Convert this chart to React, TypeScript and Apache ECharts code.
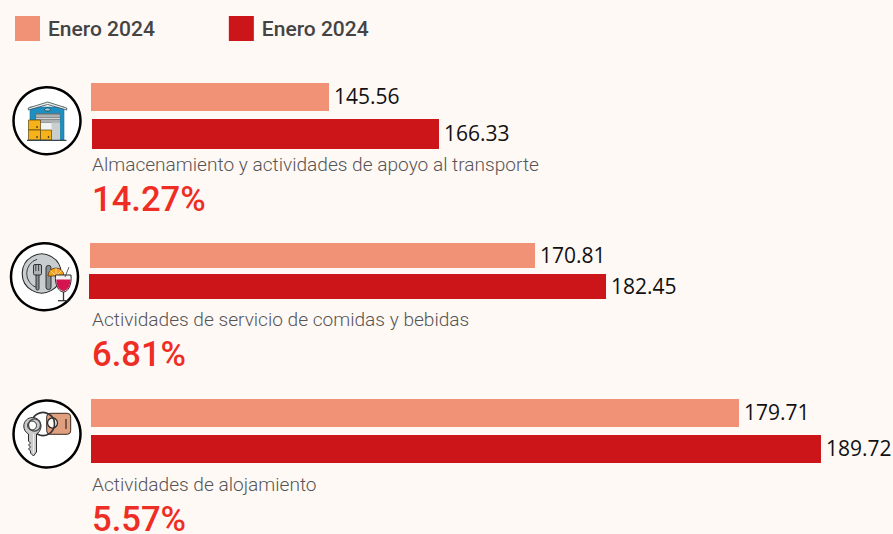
import React, { useEffect, useRef } from "react";
import * as echarts from "echarts";

const legendLabels = ["Enero 2024", "Enero 2024"];
const categories = [
  "Almacenamiento y actividades de apoyo al transporte",
  "Actividades de servicio de comidas y bebidas",
  "Actividades de alojamiento",
];
const lightValues = [145.56, 170.81, 179.71];
const darkValues = [166.33, 182.45, 189.72];
const changes = ["14.27%", "6.81%", "5.57%"];

// Each block of the infographic has its own truncated value axis
const axisMins = [100.21, 98.87, 100.59];
const pxPerUnit = [5.248, 6.186, 8.19];

const LIGHT = "#F19176";
const DARK = "#CB1519";
const BG = "#FFF9F6";
const INK = "#2B2B2B";

// [left, top, height] of each bar, in page pixels
const lightBoxes = [[91, 83, 28], [90, 243, 25], [91, 399, 28]];
const darkBoxes = [[92, 119, 30], [89, 274, 25], [91, 435, 28]];
const subtitleY = [164, 319, 484];
const changeY = [199, 354, 519];
const GRID_WIDTH = 730;

echarts.graphic.registerShape(
  "bowl",
  echarts.graphic.extendPath("M55.5 275 L71 275 C72 285 68 292 63.5 292 C59 292 54.5 285 55.5 275 Z", {})
);
echarts.graphic.registerShape(
  "bowlWine",
  echarts.graphic.extendPath("M56.3 279.5 L70.4 279.5 C70.8 286 67 291 63.5 291 C60 291 56 286 56.3 279.5 Z", {})
);
echarts.graphic.registerShape(
  "keyBody",
  echarts.graphic.extendPath(
    "M32.5 417.5 C37.5 417.5 41 421.5 41 426 C41 430 38.5 433 36.5 434 L36.5 452 L33.5 456 L30.5 453 L30.5 451 L28.5 449 L30.5 447 L28.5 445 L30.5 443 L28.5 441 L28.5 434 C25.5 432.5 23.8 429.5 23.8 426 C23.8 421.5 27.5 417.5 32.5 417.5 Z",
    {}
  )
);

const line = (x1: number, y1: number, x2: number, y2: number, stroke: string, lineWidth = 1) => ({
  type: "line",
  shape: { x1, y1, x2, y2 },
  style: { stroke, lineWidth },
});
const box = (x: number, y: number, width: number, height: number, fill: string, stroke = INK, lineWidth = 0.8, r = 0) => ({
  type: "rect",
  shape: { x, y, width, height, r },
  style: { fill, stroke, lineWidth },
});
const dot = (cx: number, cy: number, r: number, fill: string, stroke = INK, lineWidth = 1) => ({
  type: "circle",
  shape: { cx, cy, r },
  style: { fill, stroke, lineWidth },
});

const warehouseIcon = () => [
  dot(47, 120.7, 33.5, "#FFFFFF", "#000000", 2.5),
  box(30, 107, 34, 33, "#1D8FC0", "#1D6E94", 0.6),
  { type: "polygon", shape: { points: [[28.3, 108], [47.7, 102], [66.7, 108], [66.7, 110], [47.7, 104.5], [28.3, 110]] }, style: { fill: "#E8EEF0", stroke: "#3A4A50", lineWidth: 0.8 } },
  { type: "ellipse", shape: { cx: 47.5, cy: 109.5, rx: 3, ry: 1.6 }, style: { fill: "#8CCBE0", stroke: INK, lineWidth: 0.7 } },
  box(36, 113.5, 24, 9, "#8A8F92", "#555", 0.4),
  line(36, 116, 60, 116, "#E6E6E6", 0.8),
  line(36, 118.5, 60, 118.5, "#E6E6E6", 0.8),
  line(36, 121, 60, 121, "#E6E6E6", 0.8),
  box(36, 122.5, 24, 17.5, "#F2F4F3", "#777", 0.4),
  box(51.5, 122.5, 8.5, 17.5, "#C9CFCF", "#999", 0),
  box(28.5, 120, 12, 10, "#F5B21A", "#5A4510", 0.7),
  box(28.5, 130, 12, 10, "#F5B21A", "#5A4510", 0.7),
  box(40.5, 130, 11, 10, "#F5B21A", "#5A4510", 0.7),
  dot(37, 127, 0.7, INK, INK, 0.3),
  dot(37, 137, 0.7, INK, INK, 0.3),
  dot(48.5, 137, 0.7, INK, INK, 0.3),
  line(27, 140.3, 66.5, 140.3, "#37474F", 1.2),
];

const mealIcon = () => [
  dot(44.5, 276.7, 33.5, "#FFFFFF", "#000000", 2.5),
  dot(41.7, 273.5, 19.5, "#C8CED0", "#2A2A2A", 1.1),
  { type: "arc", shape: { cx: 41.7, cy: 273.5, r: 15, startAngle: 1.9, endAngle: 4.4 }, style: { stroke: "#2A2A2A", lineWidth: 0.9, fill: "none" } },
  box(36, 274, 3, 16, "#8A8F92", "#222", 0.9, 1.2),
  box(33.5, 264.5, 8, 10.5, "#AEB4B6", "#222", 0.9, 1.5),
  line(35.8, 264.5, 35.8, 271, "#222", 0.8),
  line(38.6, 264.5, 38.6, 271, "#222", 0.8),
  box(46, 265.5, 5, 24, "#8A8F92", "#222", 0.9, 2.2),
  { type: "sector", shape: { cx: 56, cy: 276, r0: 0, r: 8, startAngle: Math.PI, endAngle: 2 * Math.PI }, style: { fill: "#F4A11E", stroke: "#5A3A10", lineWidth: 0.8 } },
  line(56, 276, 56, 268, "#FBE6B5", 0.8),
  line(56, 276, 50.5, 270.5, "#FBE6B5", 0.8),
  line(56, 276, 61.5, 270.5, "#FBE6B5", 0.8),
  { type: "bowl", style: { fill: "#F4F2F1", stroke: "#2A2A2A", lineWidth: 1 } },
  { type: "bowlWine", style: { fill: "#D5134F", stroke: "none" } },
  line(65, 277, 69, 267, "#333", 0.8),
  line(63.5, 292, 63.5, 300, "#333", 1.3),
  line(58, 300.7, 68.5, 300.7, "#333", 1.3),
];

const keysIcon = () => [
  dot(47, 434, 33.5, "#FFFFFF", "#000000", 2.5),
  box(46.7, 413.3, 24, 21, "#E0A080", "#3A2A22", 1, 3.5),
  line(66, 419, 66, 429, "#3A2A22", 1.2),
  dot(52.5, 423, 5, BG, "#2A2A2A", 1.3),
  dot(43, 424, 11.5, "none", "#333", 1.6),
  { type: "keyBody", style: { fill: "#C9CBCC", stroke: "#2A2A2A", lineWidth: 1 } },
  dot(32, 425.5, 4.5, "#FFFFFF", "#2A2A2A", 1),
  dot(34.5, 425, 6, "none", "#444", 1.2),
  line(33.5, 434, 33.5, 453, "#EFEFEF", 1),
];

export default function App() {
  const ref = useRef<HTMLDivElement>(null);

  useEffect(() => {
    document.body.style.margin = "0";
    const chart = echarts.init(ref.current!, null, { renderer: "svg" });

    const seriesNames = [legendLabels[0], legendLabels[1] + " "];
    const bars = categories.flatMap((_, g) => [
      { value: lightValues[g], boxRect: lightBoxes[g], color: LIGHT, name: seriesNames[0], g },
      { value: darkValues[g], boxRect: darkBoxes[g], color: DARK, name: seriesNames[1], g },
    ]);

    chart.setOption({
      animation: false,
      backgroundColor: BG,
      legend: {
        left: 15,
        top: 16,
        itemWidth: 25,
        itemHeight: 25,
        itemGap: 74,
        padding: 0,
        selectedMode: false,
        icon: "rect",
        data: seriesNames,
        formatter: (name: string) => name.trim(),
        textStyle: {
          fontFamily: "Roboto",
          fontSize: 21,
          fontWeight: 500,
          color: "#444444",
          padding: [0, 0, 2, 3],
        },
      },
      grid: bars.map((b) => ({
        left: b.boxRect[0],
        top: b.boxRect[1],
        width: GRID_WIDTH,
        height: b.boxRect[2],
        containLabel: false,
      })),
      xAxis: bars.map((b, i) => ({
        type: "value",
        gridIndex: i,
        min: axisMins[b.g],
        max: axisMins[b.g] + GRID_WIDTH / pxPerUnit[b.g],
        show: false,
      })),
      yAxis: bars.map((b, i) => ({
        type: "category",
        gridIndex: i,
        data: [categories[b.g]],
        show: false,
      })),
      series: bars.map((b, i) => ({
        type: "bar",
        name: b.name,
        xAxisIndex: i,
        yAxisIndex: i,
        barWidth: "100%",
        data: [b.value],
        itemStyle: { color: b.color },
        label: {
          show: true,
          position: "right",
          distance: 5,
          offset: [0, -1],
          formatter: (p: any) => p.value.toFixed(2),
          fontFamily: "Open Sans",
          fontSize: 21,
          color: "#111111",
        },
      })),
      graphic: {
        elements: [
          ...warehouseIcon(),
          ...mealIcon(),
          ...keysIcon(),
          ...categories.map((c, g) => ({
            type: "text",
            x: 92,
            y: subtitleY[g],
            style: {
              text: c,
              fontFamily: "Roboto",
              fontSize: 19.1,
              fontWeight: 300,
              fill: "#555555",
              textVerticalAlign: "middle",
            },
          })),
          ...changes.map((c, g) => ({
            type: "text",
            x: 92,
            y: changeY[g],
            style: {
              text: c,
              fontFamily: "Roboto",
              fontSize: 34.6,
              fontWeight: 500,
              fill: "#EE2E24",
              textVerticalAlign: "middle",
            },
          })),
        ],
      },
    });

    return () => chart.dispose();
  }, []);

  return <div ref={ref} style={{ width: 893, height: 534, overflow: "hidden" }} />;
}
